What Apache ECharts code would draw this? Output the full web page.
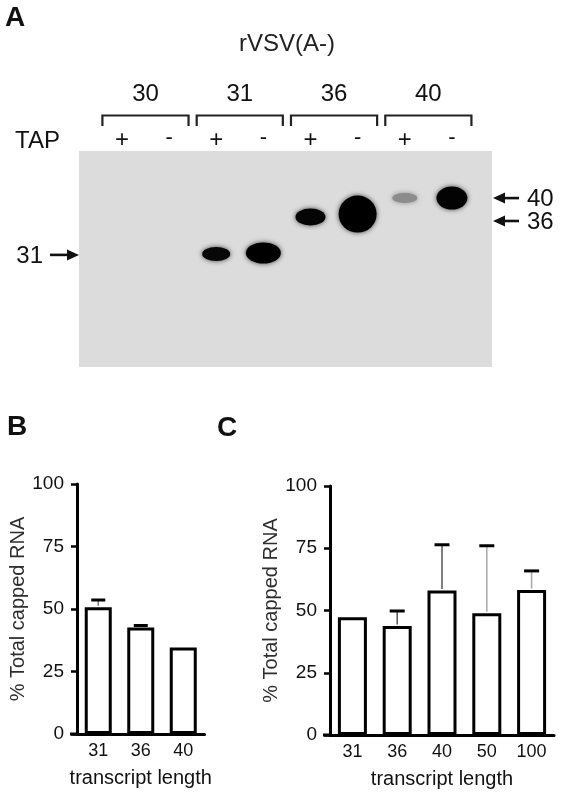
<!DOCTYPE html>
<html><head><meta charset="utf-8">
<script src="https://cdn.jsdelivr.net/npm/echarts@6/dist/echarts.min.js"></script>
<style>html,body{margin:0;padding:0;background:#fff}#c{width:564px;height:800px}</style>
</head><body><div id="c"></div>
<script>
// ---------- Panel A: gel ----------
const laneGroups = ['30', '31', '36', '40'];
const tapLabels = ['+', '-', '+', '-', '+', '-', '+', '-'];
const bandLane = [3, 4, 5, 6, 7, 8];
const bandMigration = [47.7, 47.2, 30.6, 29.2, 21.8, 21.8];
const markerLabels = ['31', '36', '40'];
const markerMigration = [48.1, 32.4, 21.8];
const markerSide = ['left', 'right', 'right'];
// ---------- Panel B ----------
const catB = ['31', '36', '40'];
const meanB = [50.7, 42.6, 34.6];
const errTopB = [53.6, 43.4, null];
// ---------- Panel C ----------
const catC = ['31', '36', '40', '50', '100'];
const meanC = [47.3, 43.8, 58.0, 48.9, 58.2];
const errTopC = [null, 49.8, 76.4, 76.0, 65.9];

// styles (not data)
const bandStyle = [
  { w: 28, h: 14, c: '#080808' },
  { w: 35, h: 21, c: '#000' },
  { w: 30, h: 17, c: '#050505' },
  { w: 38, h: 37, c: '#000' },
  { w: 25, h: 10, c: '#8c8c8c' },
  { w: 31, h: 23, c: '#030303' }
];
const stemColorB = ['#777', '#777', '#777'];
const stemColorC = ['#555', '#555', '#555', '#a8a8a8', '#a8a8a8'];
const FONT = 'Liberation Sans, Arial, Helvetica, sans-serif';
const INK = '#111';
const ellipsePath = 'path://M0,50 A50,50 0 1,1 100,50 A50,50 0 1,1 0,50 Z';

const chart = echarts.init(document.getElementById('c'), null, { renderer: 'canvas' });

function barAxes(gi, cats) {
  return {
    x: {
      gridIndex: gi, type: 'category', data: cats,
      axisLine: { lineStyle: { color: '#000', width: 3 } },
      axisTick: { show: false },
      axisLabel: { fontSize: 18, color: INK, fontFamily: FONT, margin: 8 },
      name: 'transcript length', nameLocation: 'middle', nameGap: 34,
      nameTextStyle: { fontSize: 20, color: INK, fontFamily: FONT }
    },
    y: {
      gridIndex: gi, type: 'value', min: 0, max: 100, interval: 25,
      axisLine: { show: true, lineStyle: { color: '#000', width: 3 } },
      axisTick: { show: true, length: 6, lineStyle: { color: '#000', width: 2.5 } },
      splitLine: { show: false },
      axisLabel: { fontSize: 19, color: INK, fontFamily: FONT, margin: 13 },
      name: '% Total capped RNA', nameLocation: 'middle', nameGap: 48,
      nameTextStyle: { fontSize: 20, color: '#2e2e2e', fontFamily: FONT }
    }
  };
}
const axB = barAxes(1, catB);
const axC = barAxes(2, catC);

function errSeries(ai, means, tops, capW, stemColors) {
  const data = [];
  means.forEach((m, i) => { if (tops[i] != null) data.push([i, m, tops[i]]); });
  return {
    type: 'custom', xAxisIndex: ai, yAxisIndex: ai, z: 5, silent: true,
    data: data,
    renderItem: (params, api) => {
      const idx = api.value(0);
      const base = api.coord([idx, api.value(1)]);
      const t = api.coord([idx, api.value(2)]);
      return {
        type: 'group', children: [
          { type: 'line', shape: { x1: base[0], y1: base[1] - 1.5, x2: t[0], y2: t[1] }, style: { stroke: stemColors[idx], lineWidth: 1.5 } },
          { type: 'line', shape: { x1: t[0] - capW / 2, y1: t[1], x2: t[0] + capW / 2, y2: t[1] }, style: { stroke: '#000', lineWidth: 3 } }
        ]
      };
    }
  };
}

chart.setOption({
  animation: false,
  backgroundColor: '#fff',
  grid: [
    { left: 79, top: 151, width: 413, height: 216, show: true, backgroundColor: '#dcdcdc', borderWidth: 0 },
    { left: 77, top: 484, width: 127.5, height: 250 },
    { left: 330, top: 486, width: 224, height: 249 }
  ],
  xAxis: [
    { gridIndex: 0, type: 'value', min: 0.09, max: 8.85, show: false },
    axB.x, axC.x
  ],
  yAxis: [
    { gridIndex: 0, type: 'value', min: 0, max: 100, inverse: true, show: false },
    axB.y, axC.y
  ],
  series: [
    {
      type: 'scatter', xAxisIndex: 0, yAxisIndex: 0, silent: true,
      symbol: ellipsePath,
      data: bandLane.map((l, i) => ({
        value: [l, bandMigration[i]],
        symbolSize: [bandStyle[i].w, bandStyle[i].h],
        itemStyle: { color: bandStyle[i].c, shadowBlur: 5, shadowColor: bandStyle[i].c === '#8c8c8c' ? 'rgba(120,120,120,0.8)' : 'rgba(0,0,0,0.7)', opacity: 1 }
      }))
    },
    {
      type: 'bar', xAxisIndex: 1, yAxisIndex: 1, data: meanB, barWidth: 27, silent: true,
      itemStyle: { color: '#fff', borderColor: '#000', borderWidth: 3 }
    },
    errSeries(1, meanB, errTopB, 14, stemColorB),
    {
      type: 'bar', xAxisIndex: 2, yAxisIndex: 2, data: meanC, barWidth: 29, silent: true,
      itemStyle: { color: '#fff', borderColor: '#000', borderWidth: 3 }
    },
    errSeries(2, meanC, errTopC, 15, stemColorC)
  ]
});

// ---------- annotations ----------
const px = (lane, mig) => chart.convertToPixel({ gridIndex: 0 }, [lane, mig]);
const g = [];
function txt(text, x, y, size, align, weight, color) {
  g.push({ type: 'text', x: x, y: y, silent: true, style: {
    text: text, fontSize: size, fontFamily: FONT, fontWeight: weight || 'normal',
    fill: color || INK, align: align || 'center', verticalAlign: 'middle' } });
}
// panel letters
txt('A', 5, 18, 28, 'left', 'bold');
txt('B', 7, 427, 28, 'left', 'bold');
txt('C', 217, 428, 28, 'left', 'bold');
// title
txt('rVSV(A-)', 287, 44, 24, 'center', 'normal', '#222');
// TAP row
txt('TAP', 15, 141, 24, 'left');
tapLabels.forEach((s, i) => {
  const p = px(i + 1, 0);
  txt(s, p[0], s === '-' ? 138 : 140, s === '-' ? 22 : 24, 'center');
});
// groups and brackets
laneGroups.forEach((lab, k) => {
  const a = px(2 * k + 1, 0), b = px(2 * k + 2, 0);
  const x1 = a[0] - 19.5, x2 = b[0] + 19.5;
  g.push({ type: 'polyline', silent: true, shape: { points: [[x1, 126], [x1, 115.5], [x2, 115.5], [x2, 126]] },
    style: { stroke: '#222', lineWidth: 2.2, fill: null } });
  txt(lab, (x1 + x2) / 2, 94, 24, 'center');
});
// size markers with arrows
const gelL = px(0.09, 0)[0], gelR = px(8.85, 0)[0];
markerLabels.forEach((lab, i) => {
  const y = px(1, markerMigration[i])[1];
  if (markerSide[i] === 'left') {
    const xs = 50, xe = gelL;
    g.push({ type: 'line', silent: true, shape: { x1: xs, y1: y, x2: xe - 10, y2: y }, style: { stroke: '#111', lineWidth: 2.6 } });
    g.push({ type: 'polygon', silent: true, shape: { points: [[xe, y], [xe - 12, y - 5.5], [xe - 12, y + 5.5]] }, style: { fill: '#111' } });
    txt(lab, 43, y + 1, 24, 'right');
  } else {
    const xs = gelR + 1, xe = 519;
    g.push({ type: 'line', silent: true, shape: { x1: xs + 10, y1: y, x2: xe, y2: y }, style: { stroke: '#111', lineWidth: 2.6 } });
    g.push({ type: 'polygon', silent: true, shape: { points: [[xs, y], [xs + 12, y - 5.5], [xs + 12, y + 5.5]] }, style: { fill: '#111' } });
    txt(lab, 527, y + 1, 24, 'left');
  }
});
// x-axis lines in the reference extend left past the y axis by the tick length
[1, 2].forEach(gi => {
  const o = chart.convertToPixel({ gridIndex: gi }, [0, 0]);
  const left = gi === 1 ? 77 : 330;
  g.push({ type: 'line', silent: true, shape: { x1: left - 7, y1: o[1], x2: left, y2: o[1] }, style: { stroke: '#000', lineWidth: 3 } });
});
chart.setOption({ graphic: g });
</script>
</body></html>
